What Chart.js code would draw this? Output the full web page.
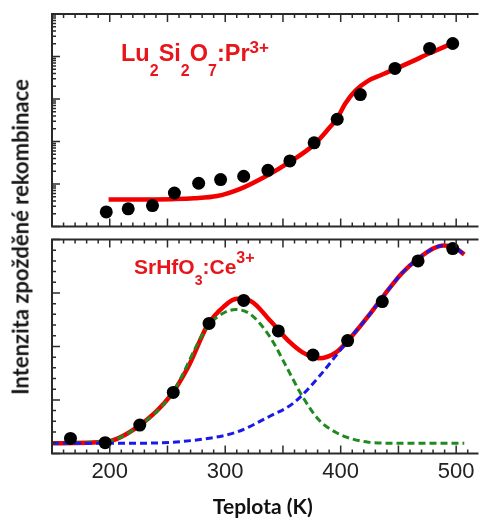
<!DOCTYPE html>
<html>
<head>
<meta charset="utf-8">
<script src="https://cdn.jsdelivr.net/npm/chart.js@4.4.1/dist/chart.umd.min.js"></script>
<style>
  body { margin: 0; width: 480px; height: 520px; overflow: hidden; background: #fff; position: relative; }
  .panel { position: absolute; left: 0; width: 480px; }
  #topBox { top: 0; height: 233px; }
  #botBox { top: 233px; height: 287px; }
  .yTitle { position: absolute; left: 20px; top: 237px; transform: translate(-50%, -50%) rotate(-90deg);
            font: bold 22px Lato, sans-serif; color: #161616; white-space: nowrap; }
  .tag { position: absolute; font-family: "Liberation Sans", Arial, sans-serif; font-weight: bold;
         color: #e8151b; line-height: 1; white-space: nowrap; }
  .tag span { position: relative; }
</style>
</head>
<body>
<div class="panel" id="topBox"><canvas id="topChart"></canvas></div>
<div class="panel" id="botBox"><canvas id="botChart"></canvas></div>

<div class="yTitle">Intenzita zpožděné rekombinace</div>
<div class="tag" style="left:121px; top:42px; font-size:23.5px;">Lu<span style="font-size:16px; top:15px;">2</span>Si<span style="font-size:16px; top:15px;">2</span>O<span style="font-size:16px; top:15px;">7</span>:Pr<span style="font-size:17px; top:-8px;">3+</span></div>
<div class="tag" style="left:134px; top:256px; font-size:21px;">SrHfO<span style="font-size:14px; top:11px;">3</span>:Ce<span style="font-size:16px; top:-11px;">3+</span></div>

<script>
// Lu2Si2O7:Pr3+ (log intensity)
const topT = [197, 216, 237, 256, 277, 296, 316, 337, 356, 377, 397, 417, 447, 477, 497];
const topV = [2.2, 2.6, 3.1, 6.1, 10.4, 12.7, 15.2, 21, 35, 93, 334, 1270, 5250, 15500, 20200];
const topFitT = [199, 225, 254, 273, 293, 313, 336, 356, 377, 390, 397, 404, 413, 424, 435, 447, 461, 477, 499];
const topFitV = [4.3, 4.3, 4.4, 4.6, 5.2, 7.7, 15.7, 33, 85, 207, 352, 783, 1590, 2710, 3670, 5050, 7460, 11900, 21700];

// SrHfO3:Ce3+ (linear intensity)
const botT = [166, 196, 226, 255, 286, 316, 346, 376, 406, 436, 467, 497];
const botV = [0.28, 0.20, 0.53, 1.14, 2.43, 2.86, 2.29, 1.84, 2.11, 2.84, 3.60, 3.83];
const redT = [150, 197, 225, 253, 268, 285, 299, 310, 322, 339, 356, 367, 381, 396, 410, 424, 438, 453, 467, 481, 489, 498, 507];
const redV = [0.19, 0.22, 0.51, 1.09, 1.62, 2.41, 2.75, 2.89, 2.85, 2.48, 2.08, 1.89, 1.78, 1.89, 2.2, 2.57, 2.97, 3.37, 3.64, 3.84, 3.89, 3.86, 3.72];
const greenT = [150, 197, 225, 253, 285, 299, 309, 322, 339, 353, 367, 381, 396, 410, 424, 450, 507];
const greenV = [0.19, 0.22, 0.51, 1.09, 2.38, 2.63, 2.69, 2.60, 2.17, 1.62, 1.06, 0.63, 0.39, 0.27, 0.21, 0.19, 0.19];
const blueT = [150, 225, 282, 310, 339, 359, 381, 404, 424, 438, 453, 467, 481, 489, 498, 507];
const blueV = [0.19, 0.19, 0.27, 0.40, 0.70, 0.94, 1.43, 2.05, 2.57, 2.97, 3.37, 3.64, 3.84, 3.89, 3.86, 3.72];

const xTickLabels = [200, 300, 400, 500];
const xMin = 150, xMax = 515;

const pts = (xs, ys) => xs.map((x, i) => ({ x, y: ys[i] }));

// inward tick marks: every 10 K, longer every 50 K
const xMarks = [];
for (let t = xMin; t <= 510; t += 10) xMarks.push(t);

const logMarks = [];
for (let k = 0; k < 5; k++) for (let m = 1; m <= 9; m++) logMarks.push({ v: m * Math.pow(10, k), major: m === 1 });
logMarks.push({ v: 100000, major: true });

const linMarks = [];
for (let i = 0; i <= 20; i++) linMarks.push({ v: i / 5, major: i % 5 === 0 });

const frame = {
  id: 'frame',
  afterDatasetsDraw(chart, args, opts) {
    const { ctx, chartArea: a, scales: { x, y } } = chart;
    ctx.save();
    ctx.strokeStyle = '#2a2a2a';
    ctx.lineWidth = 1.5;
    ctx.beginPath();
    xMarks.forEach(v => {
      const px = x.getPixelForValue(v);
      const len = v % 50 === 0 ? 8 : 4;
      ctx.moveTo(px, a.top); ctx.lineTo(px, a.top + len);
      ctx.moveTo(px, a.bottom); ctx.lineTo(px, a.bottom - len);
    });
    opts.yMarks.forEach(t => {
      const py = y.getPixelForValue(t.v);
      ctx.moveTo(a.left, py); ctx.lineTo(a.left + (t.major ? 8 : 4), py);
    });
    ctx.stroke();
    ctx.lineWidth = 2;
    ctx.beginPath();
    ctx.moveTo(a.right + 5, a.top);
    ctx.lineTo(a.left, a.top);
    ctx.lineTo(a.left, a.bottom);
    ctx.lineTo(a.right + 5, a.bottom);
    ctx.stroke();
    ctx.restore();
  }
};

const dots = data => ({ data, showLine: false, pointRadius: 6.5, pointBackgroundColor: '#000', pointBorderWidth: 0, order: 0 });
const curve = (data, color, width, dash, order) => ({
  data, borderColor: color, borderWidth: width, borderDash: dash, pointRadius: 0,
  cubicInterpolationMode: 'monotone', order
});

const baseOptions = {
  animation: false,
  responsive: true,
  maintainAspectRatio: false,
  plugins: { legend: { display: false }, tooltip: { enabled: false } }
};

new Chart(document.getElementById('topChart'), {
  type: 'line',
  data: {
    datasets: [
      dots(pts(topT, topV)),
      curve(pts(topFitT, topFitV), '#f20000', 4.5, [], 3)
    ]
  },
  options: {
    ...baseOptions,
    layout: { padding: { left: 52, top: 14, right: 0, bottom: 3 } },
    scales: {
      x: { type: 'linear', min: xMin, max: xMax, display: false },
      y: { type: 'logarithmic', min: 1, max: 100000, display: false }
    },
    plugins: { ...baseOptions.plugins, frame: { yMarks: logMarks } }
  },
  plugins: [frame]
});

new Chart(document.getElementById('botChart'), {
  type: 'line',
  data: {
    datasets: [
      dots(pts(botT, botV)),
      curve(pts(blueT, blueV), '#1a1ae8', 3, [7, 4], 1),
      curve(pts(greenT, greenV), '#1f8a1f', 3, [7, 4], 2),
      curve(pts(redT, redV), '#f20000', 4.5, [], 3)
    ]
  },
  options: {
    ...baseOptions,
    layout: { padding: { left: 52, top: 2.5, right: 0, bottom: 0 } },
    scales: {
      x: {
        type: 'linear', min: xMin, max: xMax,
        grid: { display: false, drawTicks: false },
        border: { display: false },
        ticks: {
          stepSize: 10, autoSkip: false, maxRotation: 0, padding: 5,
          color: '#222', font: { family: 'Liberation Sans', size: 22 },
          callback: v => xTickLabels.includes(v) ? String(v) : ''
        },
        title: {
          display: true, text: 'Teplota (K)', color: '#111',
          font: { family: 'Lato', weight: 'bold', size: 21 },
          padding: { top: 5, bottom: 0 }
        }
      },
      y: { type: 'linear', min: 0, max: 4, display: false }
    },
    plugins: { ...baseOptions.plugins, frame: { yMarks: linMarks } }
  },
  plugins: [frame]
});
</script>
</body>
</html>
